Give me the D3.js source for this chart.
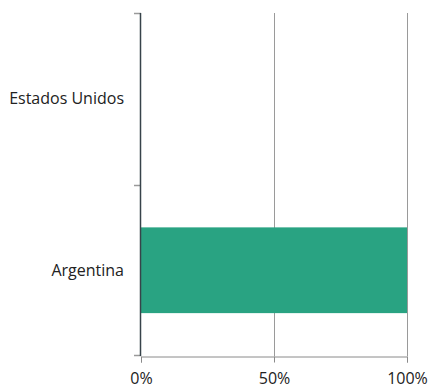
<!DOCTYPE html>
<html><head><meta charset="utf-8">
<script src="https://cdn.jsdelivr.net/npm/d3@7/dist/d3.min.js"></script>
<style>body{margin:0;background:#fff}svg{display:block}text{font-family:"Open Sans",sans-serif;font-size:16px;fill:#222}</style>
</head><body><svg id="c" width="430" height="392"></svg>
<script>
const categories = ["Estados Unidos", "Argentina"];
const values = [0, 100];
const xTicks = [0, 50, 100];

const svg = d3.select("#c");
const m = {l: 141, r: 23, t: 13, b: 36};
const W = 430, H = 392;
const x = d3.scaleLinear().domain([0, 100]).range([m.l, W - m.r]);
const y = d3.scaleBand().domain(categories).range([m.t, H - m.b]).paddingInner(0.5).paddingOuter(0.25);

// gridlines
svg.selectAll(".grid").data(xTicks.filter(d => d > 0)).enter().append("line")
  .attr("x1", d => Math.round(x(d)) + 0.5).attr("x2", d => Math.round(x(d)) + 0.5)
  .attr("y1", m.t).attr("y2", H - m.b)
  .attr("stroke", "#9a9a9a").attr("stroke-width", 1);

// bars
svg.selectAll(".bar").data(categories).enter().append("rect")
  .attr("x", x(0)).attr("y", d => y(d))
  .attr("width", (d, i) => x(values[i]) - x(0))
  .attr("height", y.bandwidth())
  .attr("fill", "#29a382");

// x axis
const xa = svg.append("g").attr("transform", `translate(0,${H - m.b + 0.5})`)
  .call(d3.axisBottom(x).tickValues(xTicks).tickFormat(d => d + "%").tickSize(6).tickPadding(10));
xa.select(".domain").attr("stroke", "#8a8a8a");
xa.selectAll(".tick line").attr("stroke", "#8a8a8a");
xa.selectAll("text").style("font-size", "16px").style("font-family", "'Open Sans',sans-serif").attr("fill", "#222");

// y axis: boundary ticks
const bounds = [m.t, (y(categories[0]) + y.bandwidth() + y(categories[1])) / 2, H - m.b - 1];
svg.selectAll(".ytick").data(bounds).enter().append("line")
  .attr("x1", m.l - 7).attr("x2", m.l)
  .attr("y1", d => Math.round(d) + 0.5).attr("y2", d => Math.round(d) + 0.5)
  .attr("stroke", "#9a9a9a").attr("stroke-width", 1.5);
svg.append("line").attr("x1", m.l - 0.5).attr("x2", m.l - 0.5)
  .attr("y1", m.t).attr("y2", H - m.b)
  .attr("stroke", "#37434a").attr("stroke-width", 1.5);

svg.selectAll(".ylab").data(categories).enter().append("text")
  .attr("x", m.l - 17).attr("y", d => y(d) + y.bandwidth() / 2)
  .attr("dy", "0.35em").attr("text-anchor", "end").text(d => d);
</script></body></html>
